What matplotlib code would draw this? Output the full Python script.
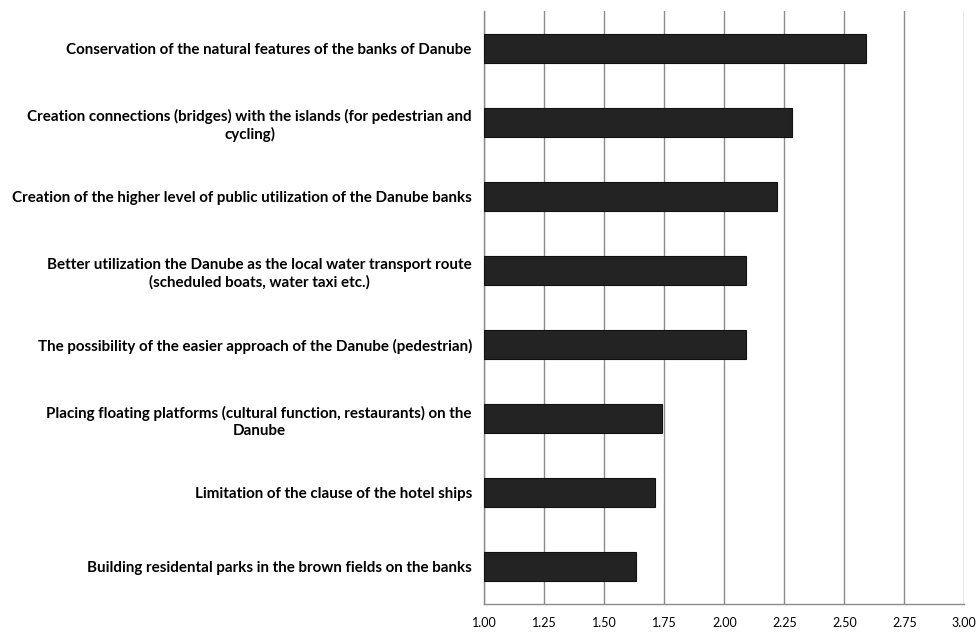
import matplotlib
matplotlib.use("Agg")
import matplotlib.pyplot as plt
import numpy as np

categories = [
    "Conservation of the natural features of the banks of Danube",
    "Creation connections (bridges) with the islands (for pedestrian and\ncycling)",
    "Creation of the higher level of public utilization of the Danube banks",
    "Better utilization the Danube as the local water transport route\n(scheduled boats, water taxi etc.)",
    "The possibility of the easier approach of the Danube (pedestrian)",
    "Placing floating platforms (cultural function, restaurants) on the\nDanube",
    "Limitation of the clause of the hotel ships",
    "Building residental parks in the brown fields on the banks",
]
values = [2.59, 2.28, 2.22, 2.09, 2.09, 1.74, 1.71, 1.63]
xticks = [1.00, 1.25, 1.50, 1.75, 2.00, 2.25, 2.50, 2.75, 3.00]
xticklabels = ["1.00", "1.25", "1.50", "1.75", "2.00", "2.25", "2.50", "2.75", "3.00"]

plt.rcParams['font.family'] = ['Lato', 'DejaVu Sans']

fig = plt.figure(figsize=(9.79, 6.32), dpi=100)
ax = fig.add_axes([0.4947, 0.0443, 0.985 - 0.4947, 0.9826 - 0.0443])

y = np.arange(len(categories))
base = 1.0
ax.barh(y, [v - base for v in values], left=base, height=0.39,
        color="#232323", edgecolor="#111111", linewidth=0.8, zorder=3)

ax.set_xlim(1.0, 3.0)
ax.set_ylim(len(categories) - 0.5, -0.5)
ax.set_xticks(xticks)
ax.set_xticklabels(xticklabels, fontsize=9)
ax.set_yticks(y)
ax.set_yticklabels(categories, fontsize=10.9, fontweight='bold',
                   multialignment='center', linespacing=1.3)
ax.tick_params(axis='y', length=0, pad=9)
ax.tick_params(axis='x', length=0, pad=9)
ax.grid(axis='x', color="#8a8a8a", linewidth=1.0, zorder=0)
for s in ['top', 'right']:
    ax.spines[s].set_visible(False)
for s in ['left', 'bottom']:
    ax.spines[s].set_color("#8a8a8a")
    ax.spines[s].set_linewidth(1.0)

fig.savefig("out.png", dpi=100)
